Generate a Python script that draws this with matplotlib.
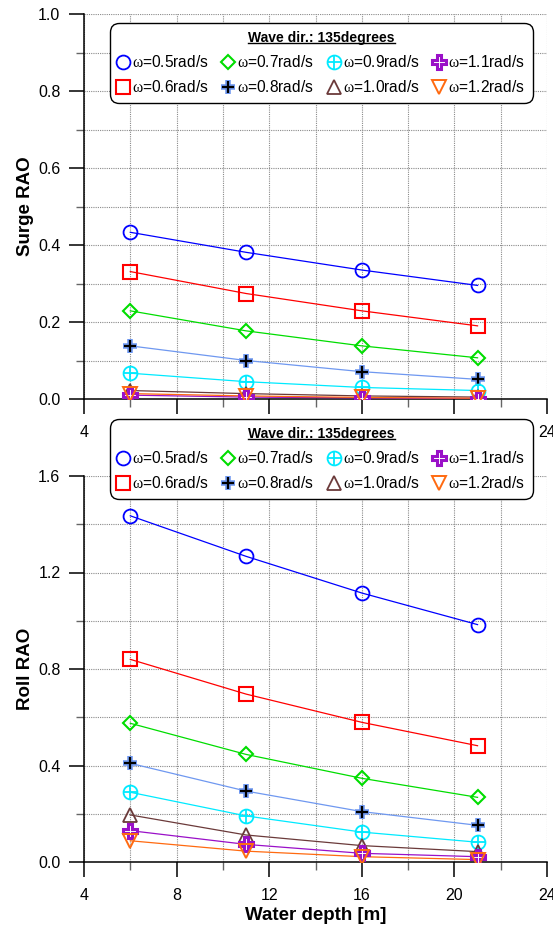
import matplotlib
matplotlib.use("Agg")
import matplotlib.pyplot as plt
from matplotlib.lines import Line2D
from matplotlib.ticker import MultipleLocator, FuncFormatter

plt.rcParams['font.family'] = ['Liberation Sans', 'DejaVu Sans']
plt.rcParams['mathtext.fontset'] = 'custom'
plt.rcParams['mathtext.rm'] = 'Liberation Serif'
plt.rcParams['mathtext.it'] = 'Liberation Serif'

depth = [6, 11, 16, 21]
omegas = ['0.5', '0.6', '0.7', '0.8', '0.9', '1.0', '1.1', '1.2']
top_xlabels_shown = [4, 24]

surge = {
    '0.5': [0.433, 0.381, 0.335, 0.295],
    '0.6': [0.331, 0.274, 0.229, 0.190],
    '0.7': [0.229, 0.177, 0.138, 0.107],
    '0.8': [0.138, 0.100, 0.071, 0.051],
    '0.9': [0.067, 0.045, 0.030, 0.022],
    '1.0': [0.022, 0.014, 0.008, 0.005],
    '1.1': [0.010, 0.005, 0.003, 0.001],
    '1.2': [0.014, 0.008, 0.004, 0.002],
}
roll = {
    '0.5': [1.435, 1.267, 1.115, 0.984],
    '0.6': [0.840, 0.696, 0.579, 0.482],
    '0.7': [0.575, 0.446, 0.347, 0.268],
    '0.8': [0.409, 0.294, 0.209, 0.152],
    '0.9': [0.289, 0.191, 0.124, 0.082],
    '1.0': [0.195, 0.112, 0.068, 0.043],
    '1.1': [0.130, 0.073, 0.036, 0.022],
    '1.2': [0.088, 0.045, 0.022, 0.010],
}

colors = {
    '0.5': '#0000ff', '0.6': '#ff0000', '0.7': '#00dd00', '0.8': '#6f98f0',
    '0.9': '#00eaff', '1.0': '#6b3a3a', '1.1': '#9a10c8', '1.2': '#ff6a10',
}

fig = plt.figure(figsize=(5.53, 9.25), dpi=100)
ax1 = fig.add_axes([84/553, (925-399)/925, 463/553, 385/925])
ax2 = fig.add_axes([84/553, (925-862)/925, 463/553, 386/925])
ax2.set_zorder(5)
ax2.patch.set_alpha(0)


def marker_artists(ax, om, x, y):
    c = colors[om]
    kw = dict(ls='none', zorder=4)
    if om == '0.5':
        arts = [dict(marker='o', ms=10, mfc='none', mec=c, mew=1.3)]
    elif om == '0.6':
        arts = [dict(marker='s', ms=9.5, mfc='none', mec=c, mew=1.5)]
    elif om == '0.7':
        arts = [dict(marker='D', ms=7.2, mfc='none', mec=c, mew=1.5)]
    elif om == '0.8':
        arts = [dict(marker='+', ms=10, mec=c, mew=4.0),
                dict(marker='+', ms=9, mec='black', mew=1.6)]
    elif om == '0.9':
        arts = [dict(marker='o', ms=10, mfc='none', mec=c, mew=1.3),
                dict(marker='+', ms=10, mec=c, mew=1.3)]
    elif om == '1.0':
        arts = [dict(marker='^', ms=9.5, mfc='none', mec=c, mew=1.3)]
    elif om == '1.1':
        arts = [dict(marker='P', ms=10, mfc='white', mec=c, mew=2.2)]
    else:
        arts = [dict(marker='v', ms=9.5, mfc='none', mec=c, mew=1.4)]
    handles = []
    for a in arts:
        ax.plot(x, y, **kw, **a)
        handles.append(Line2D([], [], ls='none', **a))
    return tuple(handles)


def setup(ax, data, ymax, ymaj, ymin, ylabel):
    handles = []
    labels = []
    for om in omegas:
        ax.plot(depth, data[om], color=colors[om], lw=0.9, zorder=3)
        h = marker_artists(ax, om, depth, data[om])
        handles.append(h)
        labels.append(r'$\mathrm{\omega}$=' + om + 'rad/s')
    ax.set_xlim(4, 24)
    ax.set_ylim(0, ymax)
    ax.xaxis.set_major_locator(MultipleLocator(4))
    ax.xaxis.set_minor_locator(MultipleLocator(2))
    ax.yaxis.set_major_locator(MultipleLocator(ymaj))
    ax.yaxis.set_minor_locator(MultipleLocator(ymin))
    ax.yaxis.set_major_formatter(matplotlib.ticker.FormatStrFormatter('%.1f'))
    ax.xaxis.set_major_formatter(matplotlib.ticker.FormatStrFormatter('%d'))
    ax.grid(True, which='both', ls=(0, (1, 1)), color='#8a8a8a', lw=0.8, zorder=0)
    ax.set_axisbelow(True)
    for s in ('top', 'right'):
        ax.spines[s].set_visible(False)
    for s in ('left', 'bottom'):
        ax.spines[s].set_linewidth(1.1)
        ax.spines[s].set_zorder(2.5)
    ax.tick_params(which='major', direction='out', length=11, width=1.1,
                   labelsize=11.5, color='black', pad=6)
    ax.tick_params(which='minor', direction='out', length=5.5, width=1.0,
                   color='#666666')
    ax.tick_params(axis='x', which='major', pad=8)
    ax.set_ylabel(ylabel, fontsize=13.5, fontweight='bold', labelpad=3)
    return handles, labels


h1, l1 = setup(ax1, surge, 1.0, 0.2, 0.1, 'Surge RAO')
h2, l2 = setup(ax2, roll, 1.6, 0.4, 0.2, 'Roll RAO')
ax2.set_xlabel('Water depth [m]', fontsize=13.5, fontweight='bold', labelpad=2.5)
# top panel: only the end labels remain visible (others lie under the lower legend)
ax1.xaxis.set_major_formatter(
    FuncFormatter(lambda v, p: '%d' % v if int(round(v)) in top_xlabels_shown else ''))

legs = []
for ax, h, l, yanc in ((ax1, h1, l1, (399-23)/385), (ax2, h2, l2, (862-419)/386)):
    leg = ax.legend(h, l, ncol=4, loc='upper right',
                    bbox_to_anchor=((533-84)/463, yanc), borderaxespad=0,
                    fontsize=11.2, title='Wave dir.: 135degrees',
                    title_fontproperties={'weight': 'bold', 'size': 10},
                    handlelength=0.6, handletextpad=0.3, columnspacing=0.95,
                    borderpad=0.5, labelspacing=0.6, frameon=True,
                    fancybox=True, framealpha=1, edgecolor='black',
                    facecolor='white')
    leg.get_frame().set_boxstyle('round,pad=0,rounding_size=0.6')
    leg.get_frame().set_linewidth(1.0)
    leg.set_zorder(10)
    legs.append(leg)

fig.canvas.draw()
renderer = fig.canvas.get_renderer()
W, H = fig.get_size_inches() * fig.dpi
for leg in legs:
    bb = leg.get_title().get_window_extent(renderer)
    y = bb.y0 + 2.0
    fig.add_artist(Line2D([bb.x0 / W, bb.x1 / W], [y / H, y / H],
                          transform=fig.transFigure, color='black', lw=1.0,
                          zorder=20))

fig.savefig('out.png', dpi=100)
